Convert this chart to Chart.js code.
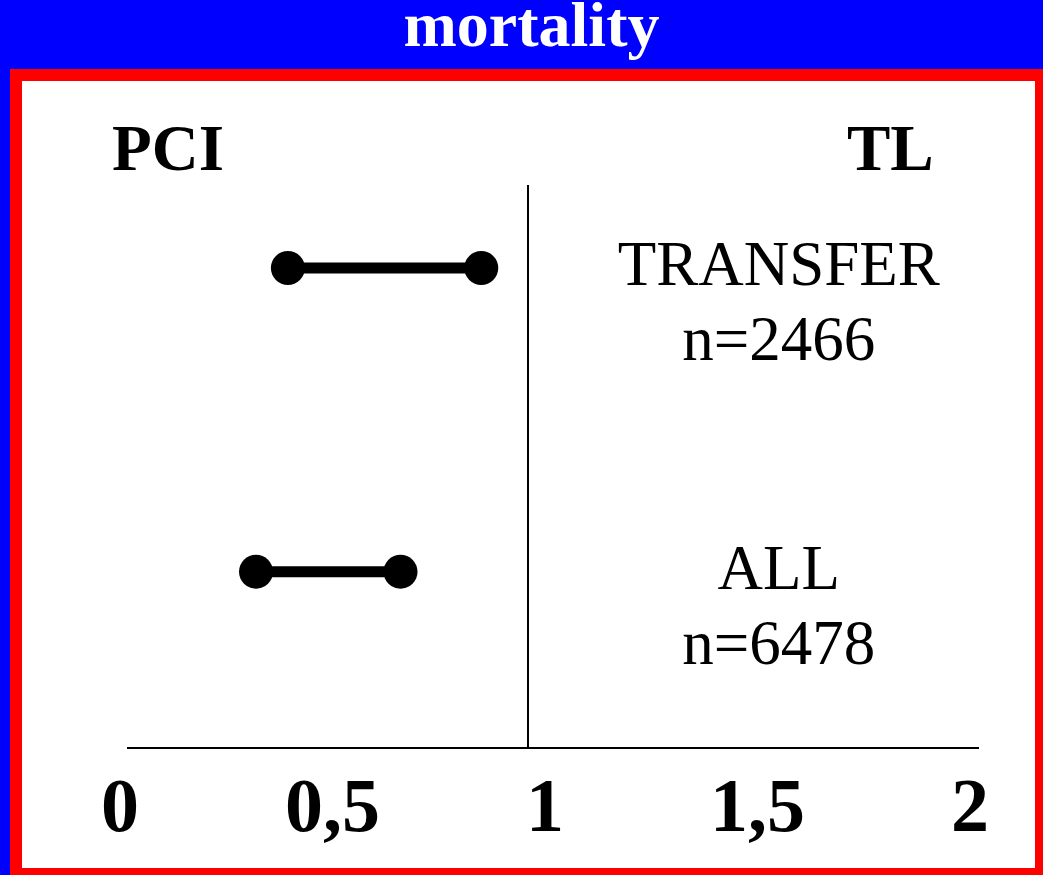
<!DOCTYPE html>
<html>
<head>
<meta charset="utf-8">
<script src="https://cdn.jsdelivr.net/npm/chart.js@4/dist/chart.umd.min.js"></script>
<style>
  html, body { margin: 0; padding: 0; }
  body {
    width: 1043px; height: 875px; overflow: hidden; position: relative;
    background: #0000ff; font-family: "Liberation Serif", "Times New Roman", serif;
  }
  #title {
    position: absolute; top: -7px; left: 10px; width: 1043px;
    text-align: center; color: #fff; font-weight: bold; font-size: 64px; line-height: 1;
  }
  #frame {
    position: absolute; left: 10px; top: 69px; width: 1037px; height: 811px;
    box-sizing: border-box; border: 12px solid #ff0000; background: #fff;
  }
  .side {
    position: absolute; top: 116px; font-weight: bold; font-size: 65px; line-height: 1; color: #000;
  }
  #myChart { position: absolute; left: 0; top: 0; }
</style>
</head>
<body>
<div id="title">mortality</div>
<div id="frame"></div>
<div class="side" style="left:112px">PCI</div>
<div class="side" style="left:847px">TL</div>
<canvas id="myChart" width="1043" height="875"></canvas>
<script>
var categories = ['TRANSFER', 'ALL'];
var sampleSizes = [2466, 6478];
var lowerCI = [0.435, 0.36];
var upperCI = [0.89, 0.70];
var tickValues = [0, 0.5, 1, 1.5, 2];

// writes "TRANSFER / n=2466" next to each row, using the chart's scales
var rowLabels = {
  id: 'rowLabels',
  afterDatasetsDraw: function(chart) {
    var ctx = chart.ctx;
    var x = chart.scales.x.getPixelForValue(1.59);
    ctx.save();
    ctx.fillStyle = '#000';
    ctx.textAlign = 'center';
    ctx.textBaseline = 'alphabetic';
    ctx.font = '63px "Liberation Serif"';
    categories.forEach(function(cat, i) {
      var y = chart.scales.y.getPixelForValue(i);
      ctx.fillText(cat, x, y + 17);
      ctx.fillText('n=' + sampleSizes[i], x, y + 92);
    });
    ctx.restore();
  }
};

var ctx = document.getElementById('myChart').getContext('2d');
var myChart = new Chart(ctx, {
  type: 'line',
  data: {
    datasets: categories.map(function(cat, i) {
      return {
        label: cat,
        data: [{x: lowerCI[i], y: i}, {x: upperCI[i], y: i}],
        borderColor: '#000',
        backgroundColor: '#000',
        borderWidth: 11,
        pointRadius: 17,
        pointHoverRadius: 17,
        pointBorderWidth: 0,
        pointBackgroundColor: '#000'
      };
    })
  },
  options: {
    responsive: false,
    animation: false,
    layout: { padding: { left: 128, right: 65, top: 186, bottom: 0 } },
    plugins: { legend: { display: false }, tooltip: { enabled: false }, title: { display: false } },
    scales: {
      x: {
        type: 'linear',
        position: 'bottom',
        min: 0.0588,
        max: 2.0588,
        afterBuildTicks: function(scale) {
          scale.ticks = tickValues.map(function(v) { return {value: v}; });
        },
        grid: { display: false, drawTicks: false },
        border: { color: '#000', width: 2 },
        ticks: {
          autoSkip: false,
          maxRotation: 0,
          labelOffset: 17,
          padding: 18,
          color: '#000',
          font: { family: 'Liberation Serif', size: 76, weight: 'bold' },
          callback: function(v) { return String(v).replace('.', ','); }
        }
      },
      y: {
        type: 'linear',
        position: { x: 1 },
        reverse: true,
        min: -0.27,
        max: 1.58,
        grid: { display: false, drawTicks: false },
        border: { color: '#000', width: 2 },
        ticks: { display: false }
      }
    }
  },
  plugins: [rowLabels]
});
</script>
</body>
</html>
